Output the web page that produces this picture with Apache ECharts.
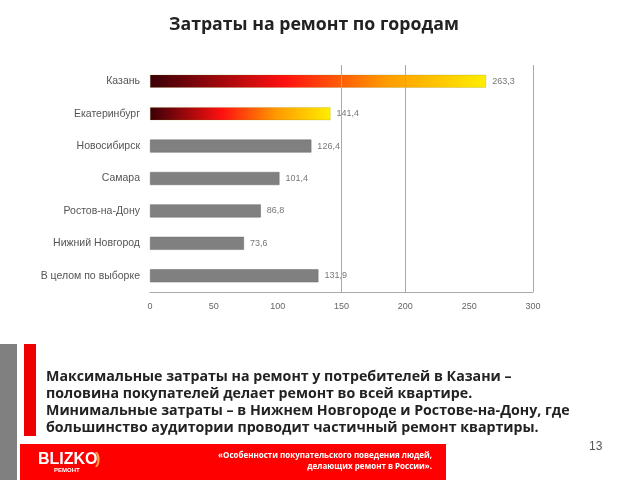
<!DOCTYPE html>
<html><head><meta charset="utf-8">
<script src="https://cdn.jsdelivr.net/npm/echarts@6/dist/echarts.min.js"></script>
<style>html,body{margin:0;padding:0;background:#fff}#c{width:640px;height:480px}</style>
</head><body><div id="c"></div>
<script>
var categories = ['Казань','Екатеринбург','Новосибирск','Самара','Ростов-на-Дону','Нижний Новгород','В целом по выборке'];
var values = [263.3, 141.4, 126.4, 101.4, 86.8, 73.6, 131.9];
var gridValues = [150, 200, 300];
var xTicks = [0, 50, 100, 150, 200, 250, 300];
var titleText = 'Затраты на ремонт по городам';
var noteLines = [
  'Максимальные затраты на ремонт у потребителей в Казани –',
  'половина покупателей делает ремонт во всей квартире.',
  'Минимальные затраты – в Нижнем Новгороде и Ростове-на-Дону, где',
  'большинство аудитории проводит частичный ремонт квартиры.'
];
var footerLines = ['«Особенности покупательского поведения людей,', 'делающих ремонт в России».'];

var grad = new echarts.graphic.LinearGradient(0,0,1,0,[
  {offset:0,color:'#3a0008'},{offset:0.4,color:'#ff1010'},{offset:0.7,color:'#ff9a00'},{offset:1,color:'#ffee00'}]);
var gray = '#808080';

var chart = echarts.init(document.getElementById('c'));
var seriesData = values.map(function(v,i){
  return {value:v, itemStyle:{color: i<2 ? grad : gray, borderColor: i<2 ? 'rgba(120,120,0,0.4)' : '#6a6a6a', borderWidth:0.5}};
});
chart.setOption({
  animation:false,
  title:{text:titleText,left:164,top:11,textStyle:{fontFamily:'Open Sans',fontWeight:'bold',fontSize:17.7,color:'#222'}},
  grid:{left:150,right:107,top:65,bottom:188,containLabel:false},
  xAxis:{type:'value',min:0,max:300,interval:50,
    axisLine:{show:true,lineStyle:{color:'#aaa',width:1}},
    axisTick:{show:false},splitLine:{show:false},
    axisLabel:{color:'#666',fontSize:9,fontFamily:'Liberation Sans',margin:10}},
  yAxis:{type:'category',inverse:true,data:categories,
    axisLine:{show:false},axisTick:{show:false},
    axisLabel:{color:'#555',fontSize:10.5,fontFamily:'Liberation Sans',margin:10}},
  series:[{type:'bar',data:seriesData,barWidth:13,
    label:{show:true,position:'right',distance:6,color:'#777',fontSize:9,fontFamily:'Liberation Sans',
      formatter:function(p){return p.value.toFixed(1).replace('.',',');}},
    markLine:{silent:true,symbol:'none',label:{show:false},
      lineStyle:{color:'#aaa',type:'solid',width:1},
      data:gridValues.map(function(g){return {xAxis:g};})}
  }],
  graphic:[
    {type:'rect',shape:{x:0,y:344,width:17,height:136},style:{fill:'#808080'}},
    {type:'rect',shape:{x:24,y:344,width:12,height:92},style:{fill:'#ee0000'}},
    {type:'rect',shape:{x:20,y:444,width:426,height:36},style:{fill:'#ff0000'}},
    {type:'text',left:46,top:368,style:{text:noteLines.join('\n'),fontFamily:'Open Sans',fontWeight:'bold',fontSize:14.2,lineHeight:17,fill:'#222'}},
    {type:'text',x:38,y:452,style:{text:'BLIZKO',fontFamily:'Liberation Sans',fontWeight:'bold',fontSize:16,fill:'#fff'}},
    {type:'text',x:95,y:452,style:{text:')',fontFamily:'Liberation Sans',fontWeight:'bold',fontSize:16,fill:'#ffa040'}},
    {type:'text',x:54,y:467,style:{text:'РЕМОНТ',fontFamily:'Liberation Sans',fontWeight:'bold',fontSize:6,fill:'#fff'}},
    {type:'text',x:432,y:450,style:{text:footerLines.join('\n'),align:'right',fontFamily:'Open Sans',fontWeight:'bold',fontSize:8,lineHeight:11,fill:'#fff'}},
    {type:'text',x:589,y:441,style:{text:'13',fontFamily:'Liberation Sans',fontSize:12,fill:'#555'}}
  ]
});
</script></body></html>
